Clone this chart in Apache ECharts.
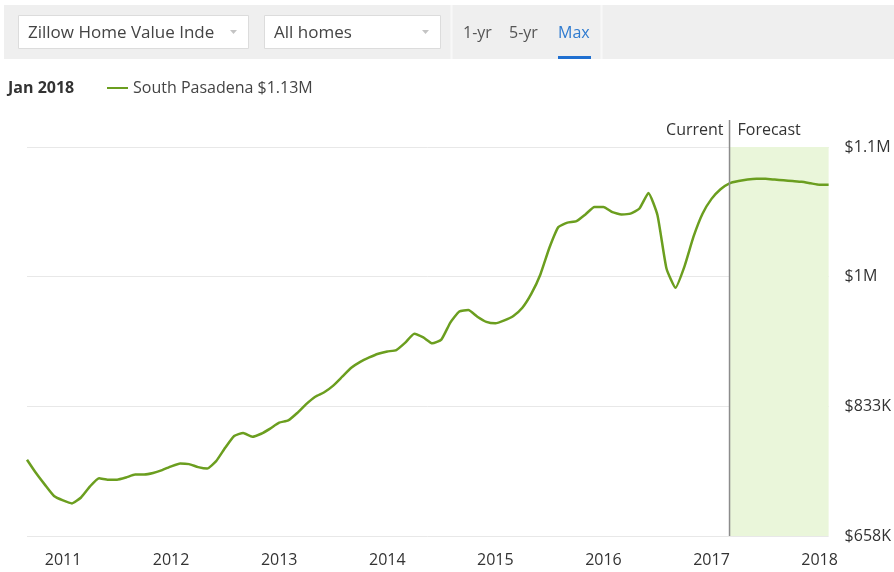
<!DOCTYPE html>
<html>
<head>
<meta charset="utf-8">
<script src="https://cdn.jsdelivr.net/npm/echarts@6/dist/echarts.min.js"></script>
<style>
  html, body { margin: 0; padding: 0; background: #fff; }
  #main { width: 894px; height: 572px; }
</style>
</head>
<body>
<div id="main"></div>
<script>
// monthly home value index, South Pasadena, Sep 2010 .. Feb 2018 (thousands of $)
var startYear = 2010, startMonth = 9;
var values = [
  761, 743, 727, 712, 706, 702, 710, 725, 736, 734,
  734, 737, 741, 741, 743, 747, 752, 756, 755, 751,
  749, 759, 777, 793, 797, 792, 796, 803, 811, 814,
  824, 836, 846, 852, 861, 873, 885, 893, 899, 904,
  907, 909, 919, 931, 926, 918, 923, 946, 961, 963,
  954, 947, 945, 949, 955, 966, 985, 1011, 1047, 1075,
  1081, 1083, 1092, 1102, 1102, 1095, 1092, 1093, 1100, 1121,
  1091, 1019, 993, 1022, 1062, 1093, 1113, 1126, 1134, 1137,
  1139, 1140, 1140, 1139, 1138, 1137, 1136, 1134, 1132, 1132
];
var currentIndex = 78;   // Mar 2017, start of forecast
var hoverIndex = 88;     // Jan 2018
var yearTicks = [2011, 2012, 2013, 2014, 2015, 2016, 2017, 2018];
var yTicks = [658, 833, 1008, 1183];
var yTickLabels = ['$658K', '$833K', '$1M', '$1.1M'];

var green = '#6b9e1f';
var font = 'Open Sans';

// decimal year of each month
var times = values.map(function (v, i) {
  return startYear + (startMonth - 1 + i) / 12;
});
var lineData = times.map(function (t, i) { return [t, values[i]]; });

var chartDom = document.getElementById('main');
var myChart = echarts.init(chartDom);

var option = {
  animation: false,
  title: {
    text: 'Jan 2018',
    left: 8,
    top: 80,
    padding: 0,
    textStyle: { fontFamily: font, fontSize: 16, fontWeight: 'bold', color: '#333' }
  },
  legend: {
    left: 107,
    top: 80,
    padding: 0,
    itemWidth: 21,
    itemHeight: 2,
    itemGap: 5,
    data: [{ name: 'South Pasadena', icon: 'rect' }],
    formatter: function (name) {
      return name + ' $' + (values[hoverIndex] / 1000).toFixed(2) + 'M';
    },
    textStyle: { fontFamily: font, fontSize: 16, color: '#444' }
  },
  grid: { left: 27, right: 65, top: 147, bottom: 36 },
  xAxis: {
    type: 'value',
    min: times[0],
    max: times[times.length - 1],
    axisLine: { show: false },
    axisTick: { show: false },
    splitLine: { show: false },
    axisLabel: {
      customValues: yearTicks,
      margin: 16,
      fontFamily: font,
      fontSize: 16,
      color: '#333',
      formatter: function (v) { return String(Math.round(v)); }
    }
  },
  yAxis: {
    type: 'value',
    position: 'right',
    min: yTicks[0],
    max: yTicks[yTicks.length - 1],
    interval: yTicks[1] - yTicks[0],
    axisLine: { show: false },
    axisTick: { show: false, customValues: yTicks },
    splitLine: { lineStyle: { color: '#e8e8e8', width: 1 } },
    axisLabel: {
      customValues: yTicks,
      margin: 16,
      fontFamily: font,
      fontSize: 16,
      color: '#333',
      formatter: function (v) {
        var k = yTicks.indexOf(Math.round(v));
        return k >= 0 ? yTickLabels[k] : '';
      }
    }
  },
  series: [{
    name: 'South Pasadena',
    type: 'line',
    data: lineData,
    showSymbol: false,
    smooth: 0.15,
    itemStyle: { color: green },
    lineStyle: { color: green, width: 2.5 },
    markArea: {
      silent: true,
      itemStyle: { color: '#eaf6da', opacity: 1 },
      data: [[{ xAxis: times[currentIndex] }, { xAxis: times[times.length - 1] }]]
    }
  }]
};

myChart.setOption(option);

// header controls and the Current | Forecast divider
var cx = myChart.convertToPixel({ xAxisIndex: 0 }, times[currentIndex]);
var yBottom = myChart.convertToPixel({ yAxisIndex: 0 }, yTicks[0]);
var headerFont = '17px "Open Sans"';

myChart.setOption({
  graphic: [
    { type: 'rect', shape: { x: 4, y: 5, width: 890, height: 54 }, style: { fill: '#efefef' } },
    { type: 'rect', shape: { x: 450.5, y: 5, width: 2, height: 54 }, style: { fill: '#f8f8f8' } },
    { type: 'rect', shape: { x: 600.5, y: 5, width: 2, height: 54 }, style: { fill: '#f8f8f8' } },
    { type: 'rect', shape: { x: 18.5, y: 15.5, width: 230, height: 33 }, style: { fill: '#fff', stroke: '#dcdcdc', lineWidth: 1 } },
    { type: 'text', x: 28, y: 33, style: { text: 'Zillow Home Value Index', font: headerFont, fill: '#444', verticalAlign: 'middle', width: 194, overflow: 'truncate', ellipsis: '' } },
    { type: 'polygon', shape: { points: [[230, 30], [237, 30], [233.5, 34]] }, style: { fill: '#c4c4c4' } },
    { type: 'rect', shape: { x: 264.5, y: 15.5, width: 176, height: 33 }, style: { fill: '#fff', stroke: '#dcdcdc', lineWidth: 1 } },
    { type: 'text', x: 274, y: 33, style: { text: 'All homes', font: headerFont, fill: '#444', verticalAlign: 'middle' } },
    { type: 'polygon', shape: { points: [[422, 30], [429, 30], [425.5, 34]] }, style: { fill: '#c4c4c4' } },
    { type: 'text', x: 463, y: 33, style: { text: '1-yr', font: '16px "Open Sans"', fill: '#555', verticalAlign: 'middle' } },
    { type: 'text', x: 509, y: 33, style: { text: '5-yr', font: '16px "Open Sans"', fill: '#555', verticalAlign: 'middle' } },
    { type: 'text', x: 558, y: 33, style: { text: 'Max', font: '16px "Open Sans"', fill: '#2f7bd0', verticalAlign: 'middle' } },
    { type: 'rect', shape: { x: 558, y: 56, width: 33, height: 3 }, style: { fill: '#1f6fd0' } },
    { type: 'line', shape: { x1: cx, y1: 120, x2: cx, y2: yBottom }, style: { stroke: '#8c8c8c', lineWidth: 1.5 }, z: 10 },
    { type: 'text', x: cx - 6, y: 130, style: { text: 'Current', font: '16px "Open Sans"', fill: '#333', align: 'right', verticalAlign: 'middle' } },
    { type: 'text', x: cx + 8, y: 130, style: { text: 'Forecast', font: '16px "Open Sans"', fill: '#333', align: 'left', verticalAlign: 'middle' } }
  ]
});
</script>
</body>
</html>
